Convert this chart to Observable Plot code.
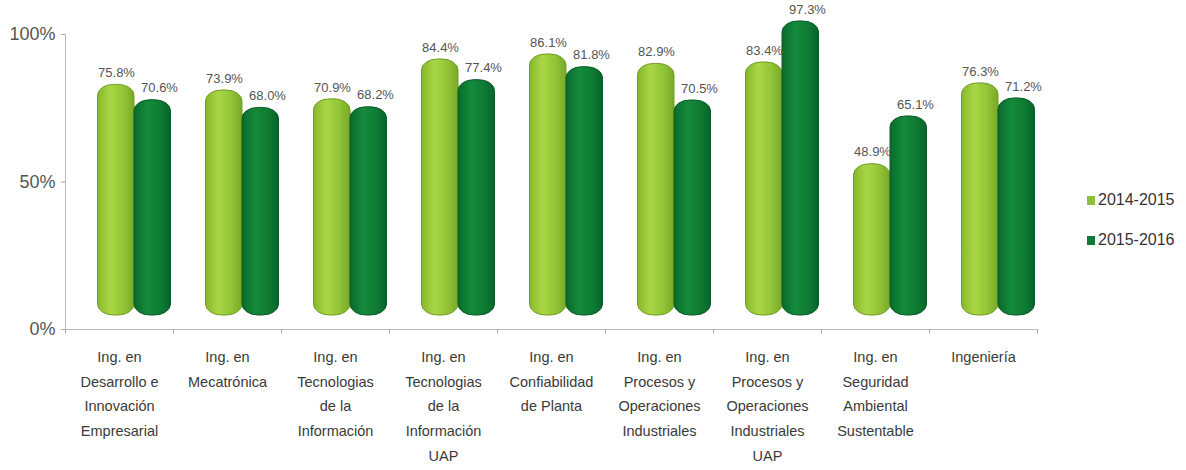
<!DOCTYPE html>
<html><head><meta charset="utf-8">
<script src="https://cdn.jsdelivr.net/npm/d3@7"></script>
<script src="https://cdn.jsdelivr.net/npm/@observablehq/plot@0.6"></script>
<style>
body{margin:0;background:#fff;}
#wrap{position:relative;width:1186px;height:470px;background:#fff;}
#legend{position:absolute;left:1087px;top:189px;font-family:"Liberation Sans",Arial,sans-serif;font-size:16px;color:#333;}
.item{display:flex;align-items:center;height:22px;margin-bottom:18px;white-space:nowrap}
.sw{width:8px;height:9px;margin-right:3px;display:inline-block}
</style></head><body><div id="wrap"><div id="legend"></div></div>
<script>
const categories = [
  "Ing. en\nDesarrollo e\nInnovación\nEmpresarial",
  "Ing. en\nMecatrónica",
  "Ing. en\nTecnologias\nde la\nInformación",
  "Ing. en\nTecnologias\nde la\nInformación\nUAP",
  "Ing. en\nConfiabilidad\nde Planta",
  "Ing. en\nProcesos y\nOperaciones\nIndustriales",
  "Ing. en\nProcesos y\nOperaciones\nIndustriales\nUAP",
  "Ing. en\nSeguridad\nAmbiental\nSustentable",
  "Ingeniería"
];
const series = ["2014-2015", "2015-2016"];
const values2014_2015 = [75.8, 73.9, 70.9, 84.4, 86.1, 82.9, 83.4, 48.9, 76.3];
const values2015_2016 = [70.6, 68.0, 68.2, 77.4, 81.8, 70.5, 97.3, 65.1, 71.2];
const yTicks = [0, 50, 100];
const seriesColors = ["#8cc13c", "#0f7a35"];

const d1 = categories.map((c, i) => ({cat: c, v: values2014_2015[i], s: series[0]}));
const d2 = categories.map((c, i) => ({cat: c, v: values2015_2016[i], s: series[1]}));
const fmt = v => v.toFixed(1) + "%";

const barCommon = {x: "cat", y: "v", insetLeft: 35.75, insetRight: 35.75, insetTop: -7, dy: -14, rx: 16, ry: 11, strokeWidth: 1};

const chart = Plot.plot({
  width: 1186,
  height: 470,
  marginLeft: 65,
  marginRight: 149,
  marginTop: 34,
  marginBottom: 141,
  style: {fontFamily: "'Liberation Sans', Arial, sans-serif", background: "#fff", color: "#444"},
  x: {domain: categories, padding: 0},
  y: {domain: [0, 100]},
  marks: [
    Plot.frame({anchor: "left", stroke: "#bbb"}),
    Plot.ruleY([0], {stroke: "#bbb"}),
    Plot.ruleX(categories, {x: d => d, y1: 0, y2: -1.5, dx: -54, stroke: "#aaa"}),
    Plot.ruleX([categories[categories.length - 1]], {x: d => d, y1: 0, y2: -1.5, dx: 54, stroke: "#aaa"}),
    Plot.axisY({ticks: yTicks, tickFormat: d => d + "%", tickSize: 4, tickPadding: 6, fontSize: 18, stroke: "#aaa", fill: "#555", label: null}),
    Plot.axisX({tickSize: 0, tickPadding: 15, fontSize: 14.5, lineHeight: 1.7, fill: "#3a3a3a", label: null, tickFormat: d => d}),
    Plot.barY(d1, {...barCommon, dx: -3.25, fill: "url(#gLight)", stroke: "#6f9d25"}),
    Plot.barY(d2, {...barCommon, dx: 33.25, fill: "url(#gDark)", stroke: "#0a5a26"}),
    Plot.text(d1, {x: "cat", y: "v", text: d => fmt(d.v), dx: -3, dy: -33, fontSize: 13, fill: "#555"}),
    Plot.text(d2, {x: "cat", y: "v", text: d => fmt(d.v), dx: 40, dy: -33, fontSize: 13, fill: "#555"})
  ]
});

const defs = d3.select(chart).insert("defs", ":first-child");
const gl = defs.append("linearGradient").attr("id", "gLight").attr("x1", "0").attr("x2", "1").attr("y1", "0").attr("y2", "0");
gl.append("stop").attr("offset", "0").attr("stop-color", "#86b82c");
gl.append("stop").attr("offset", "0.35").attr("stop-color", "#a9d646");
gl.append("stop").attr("offset", "0.7").attr("stop-color", "#93c538");
gl.append("stop").attr("offset", "1").attr("stop-color", "#78a925");
const gd = defs.append("linearGradient").attr("id", "gDark").attr("x1", "0").attr("x2", "1").attr("y1", "0").attr("y2", "0");
gd.append("stop").attr("offset", "0").attr("stop-color", "#0a6a2c");
gd.append("stop").attr("offset", "0.35").attr("stop-color", "#148a3b");
gd.append("stop").attr("offset", "0.7").attr("stop-color", "#0f7c35");
gd.append("stop").attr("offset", "1").attr("stop-color", "#08642a");

document.getElementById("wrap").prepend(chart);
chart.style.position = "absolute";
chart.style.left = "0";
chart.style.top = "0";

const legend = document.getElementById("legend");
series.forEach((s, i) => {
  const it = document.createElement("div");
  it.className = "item";
  it.innerHTML = `<span class="sw" style="background:${seriesColors[i]}"></span><span>${s}</span>`;
  legend.appendChild(it);
});
</script></body></html>
